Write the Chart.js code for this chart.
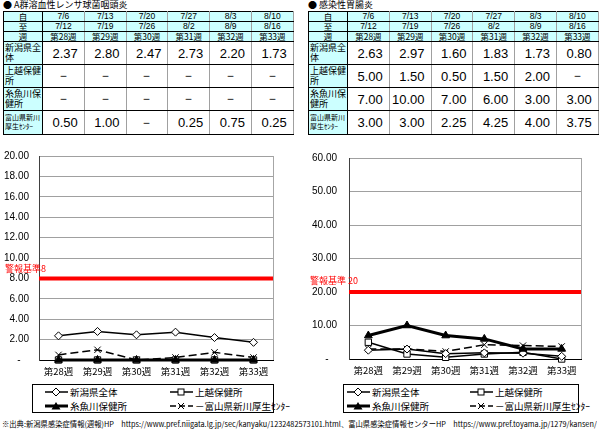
<!DOCTYPE html>
<html><head><meta charset="utf-8">
<script src="https://cdn.jsdelivr.net/npm/chart.js@4.4.1/dist/chart.umd.min.js"></script>
<style>
body{margin:0;width:600px;height:430px;background:#fff;position:relative;overflow:hidden;font-family:"Noto Sans CJK JP",sans-serif;color:#000;}
.title{position:absolute;top:-1px;font-size:9px;line-height:12px;white-space:nowrap;}
table{position:absolute;top:11px;border-collapse:collapse;table-layout:fixed;}
td{border-top:1px solid #000;border-bottom:1px solid #000;border-left:1px solid #a0a0a0;border-right:1px solid #a0a0a0;padding:0;overflow:hidden;white-space:nowrap;}
tr.h td{background:#ccffff;text-align:center;font-size:8.5px;line-height:9px;height:9px;}
tr.h td.d{font-family:"Liberation Sans",Arial,sans-serif;font-size:8.5px;}
td.lab{background:#ccffff;border-left:1px solid #000;border-right:1px solid #000;}
tr.v td{height:21px;}
tr.v td.lab{font-size:9px;line-height:10px;white-space:normal;word-break:break-all;padding-left:1px;vertical-align:top;padding-top:1px;}
tr.v td.lab.small{font-size:7px;line-height:9px;padding-top:2px;}
tr.v td.num{text-align:right;padding-right:6px;font-family:"Liberation Sans",Arial,sans-serif;font-size:13px;}
tr.v td.num.dash{text-align:center;padding-right:0;}
canvas{position:absolute;}
.legend{position:absolute;border:1px solid #000;box-sizing:border-box;}
.li{position:absolute;display:flex;align-items:center;font-size:9.5px;line-height:12px;white-space:nowrap;}
.li svg{display:block;margin-right:2px;}
.src{position:absolute;left:2px;top:418px;font-size:7.6px;line-height:12px;white-space:nowrap;transform-origin:0 50%;}
</style></head>
<body>
<div class="title" style="left:3px">● A群溶血性レンサ球菌咽頭炎</div>
<div class="title" style="left:308px">● 感染性胃腸炎</div>
<table id="t1" style="left:3px;width:290px"></table>
<table id="t2" style="left:308px;width:290px"></table>
<canvas id="c1" width="290" height="240" style="left:0;top:140px"></canvas>
<canvas id="c2" width="290" height="240" style="left:300px;top:140px"></canvas>
<div id="lg1" class="legend" style="left:32px;top:384px;width:242px;height:29px"></div>
<div id="lg2" class="legend" style="left:343px;top:384px;width:236px;height:29px"></div>
<div id="src" class="src">※出典:新潟県感染症情報(週報)HP　https://www.pref.niigata.lg.jp/sec/kanyaku/1232482573101.html、富山県感染症情報センターHP　https://www.pref.toyama.jp/1279/kansen/</div>
<script>
// ---- data ----
const startDates = ['7/6','7/13','7/20','7/27','8/3','8/10'];
const endDates   = ['7/12','7/19','7/26','8/2','8/9','8/16'];
const weeks      = ['第28週','第29週','第30週','第31週','第32週','第33週'];
const regions    = ['新潟県全体','上越保健所','糸魚川保健所','富山県新川厚生ｾﾝﾀｰ'];

// A群溶血性レンサ球菌咽頭炎 (null = "－")
const strepNiigata   = [2.37, 2.80, 2.47, 2.73, 2.20, 1.73];
const strepJoetsu    = [null, null, null, null, null, null];
const strepItoigawa  = [null, null, null, null, null, null];
const strepToyama    = [0.50, 1.00, null, 0.25, 0.75, 0.25];
const strepAlert = 8;
const strepYMax = 20, strepYStep = 2;

// 感染性胃腸炎
const gastroNiigata  = [2.63, 2.97, 1.60, 1.83, 1.73, 0.80];
const gastroJoetsu   = [5.00, 1.50, 0.50, 1.50, 2.00, null];
const gastroItoigawa = [7.00, 10.00, 7.00, 6.00, 3.00, 3.00];
const gastroToyama   = [3.00, 3.00, 2.25, 4.25, 4.00, 3.75];
const gastroAlert = 20;
const gastroYMax = 60, gastroYStep = 10;

const alertLabelPrefix = '警報基準';

// ---- tables ----
function buildTable(id, rows){
  const t = document.getElementById(id);
  let h = '<colgroup><col style="width:39px">' + weeks.map(()=>'<col style="width:41.8px">').join('') + '</colgroup>';
  h += '<tr class="h"><td class="lab">自</td>' + startDates.map(d=>'<td class="d">'+d+'</td>').join('') + '</tr>';
  h += '<tr class="h"><td class="lab">至</td>' + endDates.map(d=>'<td class="d">'+d+'</td>').join('') + '</tr>';
  h += '<tr class="h"><td class="lab">週</td>' + weeks.map(d=>'<td>'+d+'</td>').join('') + '</tr>';
  rows.forEach((r,i)=>{
    h += '<tr class="v"><td class="lab'+(i===3?' small':'')+'">'+regions[i]+'</td>' +
      r.map(v=> v==null ? '<td class="num dash">－</td>' : '<td class="num">'+v.toFixed(2)+'</td>').join('') + '</tr>';
  });
  t.innerHTML = h;
}
buildTable('t1',[strepNiigata,strepJoetsu,strepItoigawa,strepToyama]);
buildTable('t2',[gastroNiigata,gastroJoetsu,gastroItoigawa,gastroToyama]);

// ---- series styles ----
const styles = [
  {pointStyle:'rectRot', radius:4,   bw:1.5, fill:'#fff', dash:[]},
  {pointStyle:'rect',    radius:4.5, bw:1.5, fill:'#fff', dash:[]},
  {pointStyle:'triangle',radius:4.5, bw:3,   fill:'#000', dash:[]},
  {pointStyle:'crossRot',radius:4.5, bw:1.5, fill:'#000', dash:[8,4]}
];
const drawOrder = [1,2,0,3];

const alertPlugin = {
  id:'alertLine',
  beforeDatasetsDraw(chart, args, o){
    const {ctx, chartArea:a} = chart;
    const y = chart.scales.y;
    const py = y.getPixelForValue(o.value);
    ctx.save();
    ctx.strokeStyle = '#a6a6a6'; ctx.lineWidth = 1;
    ctx.beginPath(); ctx.moveTo(Math.round(a.right)+0.5, a.top); ctx.lineTo(Math.round(a.right)+0.5, a.bottom); ctx.stroke();
    ctx.strokeStyle = '#ff0000'; ctx.lineWidth = 4;
    ctx.beginPath(); ctx.moveTo(a.left, py); ctx.lineTo(a.right, py); ctx.stroke();
    ctx.fillStyle = '#ff0000';
    ctx.font = '9px "Noto Sans CJK JP"';
    ctx.textBaseline = 'middle';
    ctx.fillText(o.label, o.labelX, py - o.labelDy);
    ctx.restore();
  }
};

function alertPrefixLabel(v){ return alertLabelPrefix + (v >= 10 ? ' ' : '') + v; }

function makeChart(id, series, yMax, yStep, alert, yW, xH, pad, labelX, labelDy, tickPad){
  return new Chart(document.getElementById(id), {
    type:'line',
    data:{
      labels: weeks,
      datasets: series.map((s,i)=>({
        label: regions[i],
        data: s.map(v => v ?? 0),
        borderColor:'#000',
        borderWidth: styles[i].bw,
        borderDash: styles[i].dash,
        pointStyle: styles[i].pointStyle,
        pointRadius: styles[i].radius,
        pointHoverRadius: styles[i].radius,
        pointBackgroundColor: styles[i].fill,
        pointBorderColor:'#000',
        pointBorderWidth: 1,
        tension:0,
        fill:false,
        order: drawOrder[i],
        clip:false
      }))
    },
    options:{
      responsive:false, animation:false,
      devicePixelRatio:1,
      layout:{padding:pad},
      plugins:{legend:{display:false}, tooltip:{enabled:false},
        alertLine:{value:alert, label: alertPrefixLabel(alert), labelX, labelDy}},
      scales:{
        x:{
          offset:true,
          grid:{display:false, drawTicks:false},
          border:{display:true, color:'#000', width:1},
          ticks:{padding:6, color:'#000', font:{family:'"Noto Sans CJK JP"', size:9.5}, maxRotation:0, autoSkip:false},
          afterFit(s){ s.height = xH; }
        },
        y:{
          min:0, max:yMax,
          grid:{color:'#a0a0a0', lineWidth:1, drawTicks:false},
          border:{display:true, color:'#404040', width:1},
          ticks:{stepSize:yStep, padding:tickPad, color:'#000',
            font:{family:'"Liberation Sans", Arial', size:10},
            callback:v => v === 0 ? '-\u00a0\u00a0\u00a0' : v.toFixed(2)},
          afterFit(s){ s.width = yW; }
        }
      }
    },
    plugins:[alertPlugin]
  });
}

makeChart('c1',[strepNiigata,strepJoetsu,strepItoigawa,strepToyama], strepYMax, strepYStep, strepAlert, 39, 20, {top:12,right:17,left:0,bottom:0}, 5, 10, 10);
makeChart('c2',[gastroNiigata,gastroJoetsu,gastroItoigawa,gastroToyama], gastroYMax, gastroYStep, gastroAlert, 49, 21, {top:11,right:9,left:0,bottom:0}, 10, 11, 12);

// ---- HTML legends ----
function sampleSvg(i){
  const s = styles[i];
  const dash = s.dash.length ? ' stroke-dasharray="6,3"' : '';
  let m = '';
  if (s.pointStyle==='rectRot') m = '<polygon points="11,1 15,5 11,9 7,5" fill="#fff" stroke="#000" stroke-width="1"/>';
  if (s.pointStyle==='rect') m = '<rect x="8" y="2" width="6" height="6" fill="#fff" stroke="#000" stroke-width="1"/>';
  if (s.pointStyle==='triangle') m = '<polygon points="11,1 15.5,8.5 6.5,8.5" fill="#000"/>';
  if (s.pointStyle==='crossRot') m = '<path d="M8,2 L14,8 M14,2 L8,8" stroke="#000" stroke-width="1"/>';
  return '<svg width="23" height="10"><line x1="0" y1="5" x2="23" y2="5" stroke="#000" stroke-width="'+s.bw+'"'+dash+'/>'+m+'</svg>';
}
function buildLegend(id, c1, c2){
  const el = document.getElementById(id);
  const pos = [[c1,0],[c2,0],[c1,14],[c2,14]];
  el.innerHTML = regions.map((r,i)=>'<div class="li" style="left:'+pos[i][0]+'px;top:'+(pos[i][1]+1)+'px">'+sampleSvg(i)+'<span>'+(i===3?'－':'')+r+'</span></div>').join('');
}
buildLegend('lg1', 12, 137);
buildLegend('lg2', 3, 126);

// fit source line to page width
const src = document.getElementById('src');
const sw = src.scrollWidth;
if (sw > 595) src.style.transform = 'scaleX(' + (595 / sw) + ')';
</script>
</body></html>
